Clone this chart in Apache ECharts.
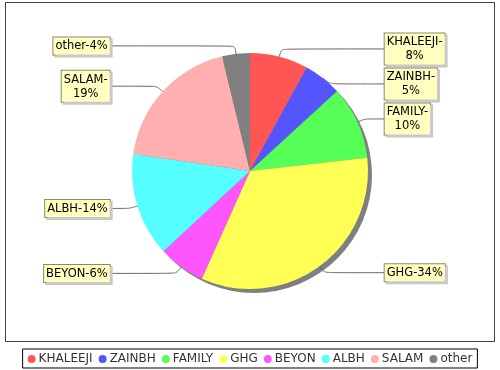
<!DOCTYPE html>
<html>
<head>
<meta charset="utf-8">
<script src="https://cdn.jsdelivr.net/npm/echarts@6/dist/echarts.min.js"></script>
<style>
html,body{margin:0;padding:0;background:#fff;}
#chart{width:500px;height:370px;}
</style>
</head>
<body>
<div id="chart"></div>
<script>
var categories = ['KHALEEJI', 'ZAINBH', 'FAMILY', 'GHG', 'BEYON', 'ALBH', 'SALAM', 'other'];
var shares = [8.0, 5.2, 10.0, 33.5, 6.4, 14.2, 18.9, 3.8];
var colors = ['#FF5555', '#5555FF', '#55FF55', '#FFFF55', '#FF55FF', '#55FFFF', '#FFAFAF', '#808080'];

var chart = echarts.init(document.getElementById('chart'), null, {renderer: 'canvas'});
var FONT = 'DejaVu Sans';

var data = categories.map(function (c, i) {
  return {name: c, value: shares[i], itemStyle: {color: colors[i]}};
});

var option = {
  animation: false,
  backgroundColor: '#ffffff',
  textStyle: {fontFamily: FONT},
  graphic: [{
    type: 'rect', z: -10, silent: true,
    shape: {x: 5.5, y: 2.5, width: 489, height: 339},
    style: {fill: '#ffffff', stroke: '#444444', lineWidth: 1}
  }],
  legend: {
    data: categories,
    bottom: 2,
    left: 'center',
    icon: 'circle',
    itemWidth: 8,
    itemHeight: 8,
    itemGap: 6,
    padding: [4, 5, 3, 5],
    borderColor: '#000000',
    borderWidth: 1,
    textStyle: {fontFamily: FONT, fontSize: 12, color: '#333333', padding: [0, 0, 0, -2]}
  },
  series: [
    {
      type: 'pie',
      silent: true,
      z: 1,
      center: [254, 175],
      radius: 118,
      label: {show: false},
      labelLine: {show: false},
      itemStyle: {color: '#7f7f7f'},
      data: [{name: '_shadow', value: 1}]
    },
    {
      type: 'pie',
      z: 2,
      center: [250, 171],
      radius: 118,
      startAngle: 90,
      clockwise: true,
      percentPrecision: 0,
      avoidLabelOverlap: true,
      data: data,
      itemStyle: {borderWidth: 0},
      label: {
        show: true,
        position: 'outer',
        alignTo: 'labelLine',
        distanceToLabelLine: 0,
        fontFamily: FONT,
        fontSize: 11.5,
        color: '#000000',
        backgroundColor: '#FFFFC0',
        borderColor: '#8a8a6a',
        borderWidth: 1,
        padding: [2, 2, 1, 2],
        lineHeight: 14,
        shadowColor: '#c8c8c8',
        shadowOffsetX: 2,
        shadowOffsetY: 2,
        shadowBlur: 0,
        formatter: function (p) {
          var head = p.name + '-';
          var tail = p.percent + '%';
          if ((head + tail).length > 8) {
            return '{t|' + head + '}\n{t|' + tail + '}';
          }
          return '{t|' + head + tail + '}';
        },
        rich: {
          t: {align: 'center', fontFamily: FONT, fontSize: 11.5, lineHeight: 14, color: '#000000'}
        }
      },
      labelLine: {
        show: true,
        length: 8,
        length2: 20,
        smooth: 0.3,
        lineStyle: {color: '#666666', width: 1}
      }
    }
  ]
};
chart.setOption(option);
</script>
</body>
</html>
